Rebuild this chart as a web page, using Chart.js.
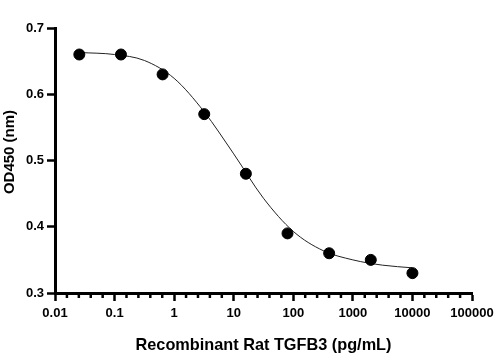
<!DOCTYPE html>
<html>
<head>
<meta charset="utf-8">
<script src="https://cdn.jsdelivr.net/npm/chart.js@4/dist/chart.umd.min.js"></script>
<style>
  html, body { margin: 0; padding: 0; background: #fff; }
  #wrap { width: 502px; height: 361px; }
</style>
</head>
<body>
<div id="wrap"><canvas id="chart"></canvas></div>
<script>
// Measured points (5-fold dilution series)
const doses = [0.0256, 0.128, 0.64, 3.2, 16, 80, 400, 2000, 10000];
const odValues = [0.66, 0.66, 0.63, 0.57, 0.48, 0.39, 0.36, 0.35, 0.33];

// Fitted curve at half-decade steps
const curveX = [0.0256, 0.1, 0.316, 1, 3.16, 10, 31.6, 100, 316, 1000, 3162, 10000];
const curveY = [0.663, 0.660, 0.651, 0.624, 0.574, 0.510, 0.443, 0.393, 0.364, 0.350, 0.342, 0.338];

// Axis ticks
const xTicks = [0.01, 0.1, 1, 10, 100, 1000, 10000, 100000];
const yTicks = [0.3, 0.4, 0.5, 0.6, 0.7];

const FONT = "'Liberation Sans', Arial, sans-serif";
const Y_TITLE = 'OD450 (nm)';

// Short evenly spaced minor ticks between decades (Prism style) + y title
const extras = {
    id: 'extras',
    afterDraw(chart) {
        const x = chart.scales.x;
        const ctx = chart.ctx;
        const y0 = chart.chartArea.bottom;
        ctx.save();
        ctx.strokeStyle = '#000';
        ctx.lineWidth = 2.5;
        for (let d = -2; d < 5; d++) {
            for (let k = 1; k < 5; k++) {
                const px = x.getPixelForValue(Math.pow(10, d + k / 5));
                ctx.beginPath();
                ctx.moveTo(px, y0);
                ctx.lineTo(px, y0 + 5);
                ctx.stroke();
            }
        }
        // y title sits a bit above the axis centre in the original
        ctx.translate(10, chart.chartArea.top + 124);
        ctx.rotate(-Math.PI / 2);
        ctx.fillStyle = '#000';
        ctx.font = "bold 15px 'Liberation Sans', Arial, sans-serif";
        ctx.textAlign = 'center';
        ctx.textBaseline = 'middle';
        ctx.fillText(Y_TITLE, 0, 0);
        ctx.restore();
    }
};

new Chart(document.getElementById('chart'), {
    type: 'scatter',
    data: {
        datasets: [{
            label: 'Fit',
            type: 'line',
            data: curveX.map((v, i) => ({ x: v, y: curveY[i] })),
            borderColor: '#222',
            borderWidth: 1,
            pointRadius: 0,
            cubicInterpolationMode: 'monotone',
            fill: false,
            order: 2,
        }, {
            label: 'OD450',
            data: doses.map((v, i) => ({ x: v, y: odValues[i] })),
            backgroundColor: '#000',
            borderColor: '#000',
            pointRadius: 5.5,
            order: 1,
        }]
    },
    options: {
        responsive: true,
        maintainAspectRatio: false,
        animation: false,
        layout: { padding: { left: 0, top: 28, right: 30, bottom: 0 } },
        plugins: {
            legend: { display: false },
            tooltip: { enabled: false }
        },
        scales: {
            x: {
                type: 'logarithmic',
                min: 0.01,
                max: 100000,
                afterBuildTicks: s => { s.ticks = xTicks.map(v => ({ value: v })); },
                afterFit: s => { s.height = 68; },
                grid: { drawOnChartArea: false, tickLength: 8, tickWidth: 2.5, tickColor: '#000' },
                border: { color: '#000', width: 3 },
                ticks: {
                    color: '#000',
                    font: { family: FONT, size: 13, weight: 'bold' },
                    padding: 5,
                    maxRotation: 0,
                    autoSkip: false,
                    callback: v => String(v)
                },
                title: {
                    display: true,
                    text: 'Recombinant Rat TGFB3 (pg/mL)',
                    color: '#000',
                    font: { family: FONT, size: 16.3, weight: 'bold' },
                    padding: { top: 4, bottom: 6 }
                }
            },
            y: {
                min: 0.3,
                max: 0.7,
                afterBuildTicks: s => { s.ticks = yTicks.map(v => ({ value: v })); },
                afterFit: s => { s.width = 55; },
                grid: { drawOnChartArea: false, tickLength: 8, tickWidth: 2.5, tickColor: '#000' },
                border: { color: '#000', width: 3 },
                ticks: {
                    color: '#000',
                    font: { family: FONT, size: 13, weight: 'bold' },
                    padding: 3,
                    callback: v => v.toFixed(1)
                }
            }
        }
    },
    plugins: [extras]
});
</script>
</body>
</html>
